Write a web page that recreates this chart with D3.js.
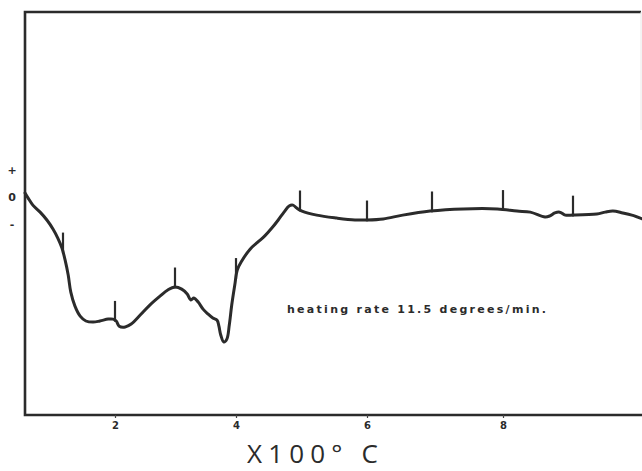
<!DOCTYPE html>
<html>
<head>
  <title>DTA curve, heating rate 11.5 degrees/min</title>
  <script src="https://d3js.org/d3.v7.min.js"></script>
  <style>
    body { margin: 0; background: #fff; }
    svg { display: block; }
  </style>
</head>
<body>
<script type="text/javascript">

// ****** DATA ******

  // temperature in hundreds of degrees C
  var temps = [0.27, 0.33, 0.42, 0.56, 0.69, 0.81, 0.90, 0.98, 1.04, 1.10, 1.15, 1.23, 1.33, 1.44,
    1.58, 1.71, 1.87, 1.96, 2.02, 2.07, 2.17, 2.27, 2.42, 2.58, 2.75, 2.88, 3.00, 3.11,
    3.20, 3.26, 3.31, 3.38, 3.46, 3.54, 3.62, 3.69, 3.72, 3.75, 3.80, 3.85, 3.89, 3.93,
    3.98, 4.02, 4.09, 4.22, 4.34, 4.45, 4.56, 4.66, 4.75, 4.83, 4.89, 4.95, 5.03, 5.25,
    5.55, 5.82, 6.00, 6.25, 6.55, 6.97, 7.44, 7.92, 8.20, 8.39, 8.60, 8.67, 8.74, 8.81,
    8.89, 9.00, 9.34, 9.46, 9.57, 9.71, 9.84, 9.99];
  // differential temperature (arbitrary units, 0 = baseline)
  var deltas = [0.15, -0.04, -0.30, -0.56, -0.85, -1.19, -1.52, -1.89, -2.33, -2.89, -3.52, -4.04, -4.41, -4.59,
    -4.63, -4.59, -4.52, -4.52, -4.59, -4.78, -4.81, -4.70, -4.37, -4.00, -3.67, -3.44, -3.33, -3.41,
    -3.59, -3.81, -3.74, -3.89, -4.15, -4.33, -4.48, -4.56, -4.78, -5.11, -5.37, -5.26, -4.74, -4.00,
    -3.26, -2.70, -2.37, -1.93, -1.67, -1.44, -1.15, -0.85, -0.56, -0.33, -0.30, -0.41, -0.52, -0.67,
    -0.78, -0.85, -0.85, -0.81, -0.67, -0.52, -0.44, -0.44, -0.52, -0.56, -0.74, -0.70, -0.59, -0.56,
    -0.67, -0.67, -0.63, -0.56, -0.52, -0.59, -0.67, -0.81];

  // every 100 degrees a mark was pen-drawn on the trace
  var markTemps = [1, 2, 3, 4, 5, 6, 7, 8, 9];
  var xTicks = [2, 4, 6, 8];
  var yTicks = [1, 0, -1];
  var yTickLabels = ["+", "0", "-"];
  var note = "heating rate 11.5 degrees/min.";
  var xTitle = "X100\u00b0 C";


// ****** SCALES ******

  var width = 642,
      height = 471;

  // the hand-drawn temperature axis is not quite even, so calibrate piecewise
  var x = d3.scaleLinear()
    .domain(markTemps)
    .range([63, 115, 175, 236, 300, 367, 432, 503, 573]);

  var y = d3.scaleLinear()
    .domain([-8.07, 6.85])
    .range([415, 12]);

  var frame = { left: 25, right: 641, top: 12, bottom: 415 };

  var points = temps.map(function (t, i) { return { t: t, v: deltas[i] }; });


// ****** CREATE ELEMENTS ******

  var svg = d3.select("body")
    .append("svg")
    .attr("width", width)
    .attr("height", height);

  // box round the recording
  svg.append("path")
    .attr("d", "M" + frame.right + "," + frame.top + "H" + frame.left + "V" + frame.bottom + "H" + width)
    .attr("fill", "none")
    .attr("stroke", "#2b2b2b")
    .attr("stroke-width", 2.6);

  svg.append("line")
    .attr("x1", frame.right).attr("x2", frame.right)
    .attr("y1", frame.top).attr("y2", 130)
    .attr("stroke", "#e8e8e8")
    .attr("stroke-width", 1);

  var xAxis = svg.append("g")
    .attr("transform", "translate(0," + frame.bottom + ")")
    .call(d3.axisBottom(x).tickValues(xTicks).tickSize(3).tickPadding(4).tickFormat(d3.format("d")));
  xAxis.select(".domain").remove();
  xAxis.selectAll("line").attr("stroke", "#444").attr("stroke-width", 1.2);
  xAxis.selectAll("text")
    .attr("fill", "#2b2b2b")
    .style("font-family", "'DejaVu Sans', sans-serif")
    .style("font-weight", "bold")
    .style("font-size", "10px");

  var yAxis = svg.append("g")
    .attr("transform", "translate(" + frame.left + ",0)")
    .call(d3.axisLeft(y).tickValues(yTicks).tickSize(0).tickPadding(9)
      .tickFormat(function (d, i) { return yTickLabels[i]; }));
  yAxis.select(".domain").remove();
  yAxis.selectAll("text")
    .attr("fill", "#2b2b2b")
    .attr("text-anchor", "middle")
    .attr("x", -13)
    .style("font-family", "'DejaVu Sans', sans-serif")
    .style("font-weight", "bold")
    .style("font-size", "11px");

  var line = d3.line()
    .x(function (d) { return x(d.t); })
    .y(function (d) { return y(d.v); })
    .curve(d3.curveCatmullRom.alpha(0.5));

  svg.append("path")
    .datum(points)
    .attr("d", line)
    .attr("fill", "none")
    .attr("stroke", "#2b2b2b")
    .attr("stroke-width", 3)
    .attr("stroke-linejoin", "round")
    .attr("stroke-linecap", "round");

  // find the trace value at a temperature
  var bisect = d3.bisector(function (d) { return d.t; }).left;
  function traceAt(t) {
    var i = bisect(points, t);
    if (i <= 0) return points[0].v;
    if (i >= points.length) return points[points.length - 1].v;
    var a = points[i - 1], b = points[i];
    return a.v + (b.v - a.v) * (t - a.t) / (b.t - a.t);
  }

  svg.selectAll(".mark")
    .data(markTemps)
    .enter()
    .append("line")
    .attr("class", "mark")
    .attr("x1", function (d) { return x(d); })
    .attr("x2", function (d) { return x(d); })
    .attr("y1", function (d) { return y(traceAt(d) - 0.05); })
    .attr("y2", function (d) { return y(traceAt(d) + 0.72); })
    .attr("stroke", "#2b2b2b")
    .attr("stroke-width", 2.2);

  svg.append("text")
    .attr("x", 287)
    .attr("y", 313)
    .attr("textLength", 259)
    .attr("lengthAdjust", "spacing")
    .attr("fill", "#2b2b2b")
    .style("font-family", "'DejaVu Sans', sans-serif")
    .style("font-weight", "bold")
    .style("font-size", "11px")
    .text(note);

  svg.append("text")
    .attr("x", 247)
    .attr("y", 463)
    .attr("textLength", 131)
    .attr("lengthAdjust", "spacing")
    .attr("fill", "#2b2b2b")
    .style("font-family", "'Open Sans', sans-serif")
    .style("font-size", "26px")
    .text(xTitle);
</script>
</body>
</html>
